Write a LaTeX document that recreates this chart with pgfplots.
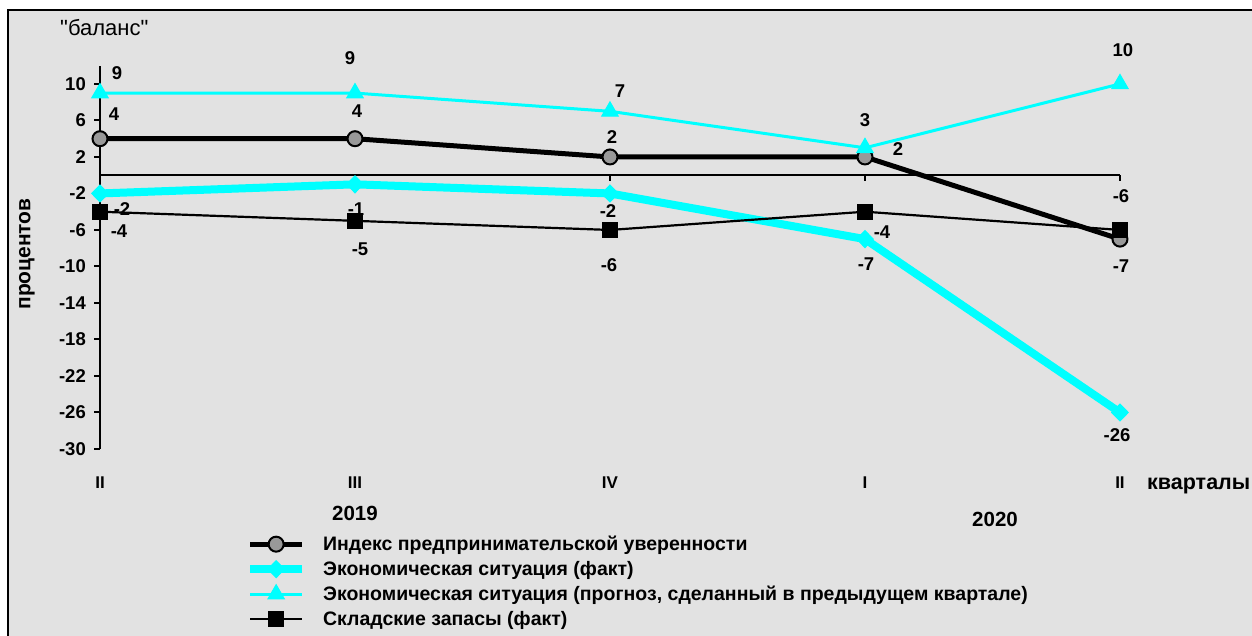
\documentclass[border=0pt]{standalone}
\usepackage{fontspec}
\setmainfont{Liberation Sans}
\newfontfamily\qfont{Liberation Sans}
\usepackage{pgfplots}
\pgfplotsset{compat=1.18}
\definecolor{bg}{HTML}{E2E2E2}
\definecolor{cy}{HTML}{00FFFF}
\definecolor{mg}{HTML}{999999}
\newcommand\lbl{\fontsize{18.5}{20}\selectfont\bfseries}
\newcommand\tck{\fontsize{18.5}{20}\selectfont\bfseries}
\newcommand\lgd{\fontsize{19.5}{21}\selectfont\bfseries}
\begin{document}
\begin{tikzpicture}[x=1pt,y=1pt]
\useasboundingbox (0,0) rectangle (1252,636);
\fill[white] (0,0) rectangle (1252,636);
\draw[line width=2pt, fill=bg] (8,-20) rectangle (1275,626);
\node[anchor=west, font=\qfont\fontsize{22}{24}\selectfont, inner sep=0pt] at (60,608) {"баланс"};
\node[rotate=90, font=\fontsize{21}{23}\selectfont\bfseries, inner sep=0pt] at (27,382) {процентов};
\node[anchor=base west, font=\fontsize{21.5}{23}\selectfont\bfseries, inner sep=0pt] at (1147,146) {кварталы};
\node[font=\fontsize{20.5}{22}\selectfont\bfseries, inner sep=0pt] at (355,123) {2019};
\node[font=\fontsize{20.5}{22}\selectfont\bfseries, inner sep=0pt] at (995,117) {2020};
\begin{axis}[
  at={(100pt,187pt)}, anchor=south west, scale only axis,
  width=1020pt, height=383.3pt,
  xmin=0, xmax=4, ymin=-30, ymax=12, clip=false,
  axis y line*=left, axis x line*=bottom,
  x axis line style={draw=none},
  y axis line style={line width=2.5pt, black},
  xtick={0,1,2,3,4}, xticklabels={II,III,IV,I,II},
  major x tick style={draw=none},
  ytick={-30,-26,-22,-18,-14,-10,-6,-2,2,6,10},
  yticklabels={-30,-26,-22,-18,-14,-10,-6,-2,2,6,10},
  tick align=outside, major tick length=6pt,
  major y tick style={line width=2pt, black},
  yticklabel style={font=\tck, anchor=east, inner sep=0pt, xshift=-8pt},
  xticklabel style={font=\fontsize{17}{19}\selectfont\bfseries, anchor=center, inner sep=0pt, yshift=-28pt},
  legend cell align=left,
  legend style={at={(0.1431,-0.2152)}, anchor=north west, draw=none, fill=none,
    inner sep=0pt, font=\lgd, row sep=0pt,
    nodes={inner sep=0pt, text height=18.5pt, text depth=6.5pt},
    /tikz/every odd column/.append style={column sep=17pt}},
  legend image code/.code={\draw[mark repeat=2,mark phase=2,#1] plot coordinates {(0pt,0pt) (26pt,0pt) (52pt,0pt)};},
]
\draw[line width=1.5pt, black] (axis cs:0,0) -- (axis cs:4,0);
\draw[line width=1.5pt, black] (axis cs:1,0) -- ++(0pt,-6pt);
\draw[line width=1.5pt, black] (axis cs:2,0) -- ++(0pt,-6pt);
\draw[line width=1.5pt, black] (axis cs:3,0) -- ++(0pt,-6pt);
\draw[line width=1.5pt, black] (axis cs:4,0) -- ++(0pt,-6pt);
\addplot[black, line width=5pt, mark=*, mark size=7.5pt, mark options={fill=mg, draw=black, line width=2pt}]
  coordinates {(0,4) (1,4) (2,2) (3,2) (4,-7)};
\addlegendentry{Индекс предпринимательской уверенности}
\addplot[cy, line width=8pt, mark=diamond*, mark size=8.5pt, mark options={fill=cy, draw=cy, line width=1pt, xscale=1.3}]
  coordinates {(0,-2) (1,-1) (2,-2) (3,-7) (4,-26)};
\addlegendentry{Экономическая ситуация (факт)}
\addplot[cy, line width=3pt, mark=triangle*, mark size=9.5pt, mark options={fill=cy, draw=cy, line width=1pt}]
  coordinates {(0,9) (1,9) (2,7) (3,3) (4,10)};
\addlegendentry{Экономическая ситуация (прогноз, сделанный в предыдущем квартале)}
\addplot[black, line width=2.2pt, mark=square*, mark size=7.5pt, mark options={fill=black, draw=black, line width=1pt}]
  coordinates {(0,-4) (1,-5) (2,-6) (3,-4) (4,-6)};
\addlegendentry{Складские запасы (факт)}
% data labels: forecast
\node[font=\lbl] at (axis cs:0,9) [xshift=17pt, yshift=20pt] {9};
\node[font=\lbl] at (axis cs:1,9) [xshift=-5pt, yshift=35pt] {9};
\node[font=\lbl] at (axis cs:2,7) [xshift=10pt, yshift=20pt] {7};
\node[font=\lbl] at (axis cs:3,3) [xshift=0pt, yshift=28pt] {3};
\node[font=\lbl] at (axis cs:4,10) [xshift=3pt, yshift=34pt] {10};
% index
\node[font=\lbl] at (axis cs:0,4) [xshift=14pt, yshift=25pt] {4};
\node[font=\lbl] at (axis cs:1,4) [xshift=2pt, yshift=28pt] {4};
\node[font=\lbl] at (axis cs:2,2) [xshift=2pt, yshift=20pt] {2};
\node[font=\lbl] at (axis cs:3,2) [xshift=33pt, yshift=8pt] {2};
\node[font=\lbl] at (axis cs:4,-7) [xshift=1pt, yshift=-27pt] {-7};
% econ fact
\node[font=\lbl] at (axis cs:0,-2) [xshift=22pt, yshift=-16pt] {-2};
\node[font=\lbl] at (axis cs:1,-1) [xshift=1pt, yshift=-25pt] {-1};
\node[font=\lbl] at (axis cs:2,-2) [xshift=-2pt, yshift=-18pt] {-2};
\node[font=\lbl] at (axis cs:3,-7) [xshift=1pt, yshift=-25.5pt] {-7};
\node[font=\lbl] at (axis cs:4,-26) [xshift=-3pt, yshift=-23pt] {-26};
% stocks
\node[font=\lbl] at (axis cs:0,-4) [xshift=19pt, yshift=-19pt] {-4};
\node[font=\lbl] at (axis cs:1,-5) [xshift=5pt, yshift=-28pt] {-5};
\node[font=\lbl] at (axis cs:2,-6) [xshift=-1pt, yshift=-35pt] {-6};
\node[font=\lbl] at (axis cs:3,-4) [xshift=17pt, yshift=-20pt] {-4};
\node[font=\lbl] at (axis cs:4,-6) [xshift=1pt, yshift=34pt] {-6};
\end{axis}
\end{tikzpicture}
\end{document}
